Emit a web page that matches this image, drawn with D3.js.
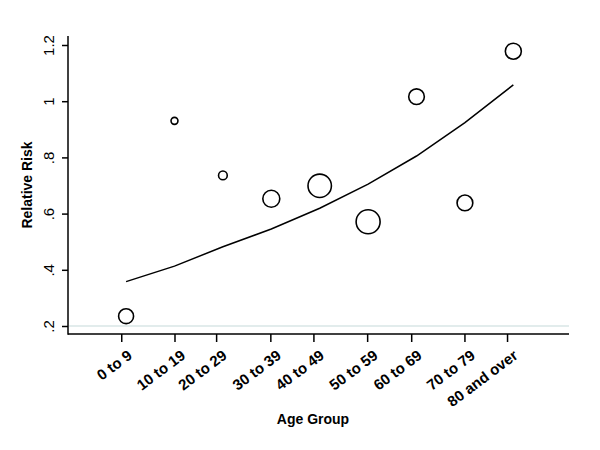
<!DOCTYPE html>
<html>
<head>
<meta charset="utf-8">
<script src="https://cdn.jsdelivr.net/npm/d3@7"></script>
<style>
  html, body { margin: 0; padding: 0; background: #fff; }
  svg { display: block; }
</style>
</head>
<body>
<svg id="chart" width="600" height="450"></svg>
<script>
// ---- data ----
const categories = ["0 to 9", "10 to 19", "20 to 29", "30 to 39", "40 to 49",
                    "50 to 59", "60 to 69", "70 to 79", "80 and over"];
const groupIndex = [1, 2, 3, 4, 5, 6, 7, 8, 9];
const relativeRisk = [0.235, 0.930, 0.736, 0.653, 0.699, 0.571, 1.016, 0.638, 1.178];
const weights = [56, 12, 19, 72, 137, 144, 61, 62, 64];
const fittedRisk = [0.358, 0.413, 0.482, 0.545, 0.619, 0.705, 0.805, 0.924, 1.058];
const xTickValues = [0.9, 2.0, 2.86, 3.98, 4.87, 5.98, 6.89, 7.99, 8.87];
const yTickValues = [0.2, 0.4, 0.6, 0.8, 1.0, 1.2];
const yTickLabels = [".2", ".4", ".6", ".8", "1", "1.2"];

(function () {
// ---- layout ----
const svg = d3.select("#chart");
const mLeft = 68, mRight = 569, mBottom = 334, mTop = 36;
const font = "'Liberation Sans', Arial, sans-serif";

const x = d3.scaleLinear().domain([-0.2, 10.15]).range([mLeft, mRight]);
const y = d3.scaleLinear().domain([0.2, 1.2]).range([326, 45]);
const r = d3.scaleSqrt().domain([0, 144]).range([0, 12]);

// grid line at .2
svg.append("line")
  .attr("x1", mLeft + 1).attr("x2", mRight)
  .attr("y1", y(0.2)).attr("y2", y(0.2))
  .attr("stroke", "#e2ecec").attr("stroke-width", 2);

// y axis
const yAxis = d3.axisLeft(y)
  .tickValues(yTickValues)
  .tickFormat((d, i) => yTickLabels[i])
  .tickSize(6).tickSizeOuter(0);
const gy = svg.append("g").attr("transform", `translate(${mLeft},0)`).call(yAxis);
gy.attr("font-size", null).attr("font-family", null);
gy.select(".domain").remove();
gy.selectAll(".tick line").attr("stroke", "#000").attr("stroke-width", 1.5);
gy.selectAll(".tick text")
  .style("font-family", font)
  .style("font-size", "15px")
  .attr("fill", "#000")
  .attr("text-anchor", "middle")
  .attr("x", 0).attr("dy", 0)
  .attr("transform", "translate(-14,0) rotate(-90)");

// x axis
const xAxis = d3.axisBottom(x)
  .tickValues(xTickValues)
  .tickFormat((d, i) => categories[i])
  .tickSize(8).tickSizeOuter(0);
const gx = svg.append("g").attr("transform", `translate(0,${mBottom})`).call(xAxis);
gx.attr("font-size", null).attr("font-family", null);
gx.select(".domain").remove();
gx.selectAll(".tick line").attr("stroke", "#000").attr("stroke-width", 1.5);
gx.selectAll(".tick text")
  .style("font-family", font)
  .style("font-size", "15px")
  .style("font-weight", "bold")
  .attr("fill", "#000")
  .attr("text-anchor", "end")
  .attr("dominant-baseline", "central")
  .attr("x", 0).attr("y", 0).attr("dy", 0)
  .attr("transform", "translate(8,19) rotate(-37)");

// axis lines
svg.append("line").attr("x1", mLeft).attr("x2", mLeft).attr("y1", mTop).attr("y2", mBottom + 0.75)
  .attr("stroke", "#000").attr("stroke-width", 1.5);
svg.append("line").attr("x1", mLeft).attr("x2", mRight).attr("y1", mBottom).attr("y2", mBottom)
  .attr("stroke", "#000").attr("stroke-width", 1.5);

// fitted line
const line = d3.line().x((d, i) => x(groupIndex[i])).y(d => y(d));
svg.append("path").datum(fittedRisk)
  .attr("d", line)
  .attr("fill", "none").attr("stroke", "#000").attr("stroke-width", 1.5);

// weighted points
svg.append("g").selectAll("circle")
  .data(relativeRisk)
  .join("circle")
  .attr("cx", (d, i) => x(groupIndex[i]))
  .attr("cy", d => y(d))
  .attr("r", (d, i) => r(weights[i]))
  .attr("fill", "none").attr("stroke", "#000").attr("stroke-width", 1.6);

// axis titles
svg.append("text")
  .attr("transform", "translate(32,185) rotate(-90)")
  .attr("text-anchor", "middle")
  .style("font-family", font)
  .style("font-size", "14px").style("font-weight", "bold")
  .text("Relative Risk");
svg.append("text")
  .attr("x", 313).attr("y", 424)
  .attr("text-anchor", "middle")
  .style("font-family", font)
  .style("font-size", "14px").style("font-weight", "bold")
  .text("Age Group");
})();
</script>
</body>
</html>
